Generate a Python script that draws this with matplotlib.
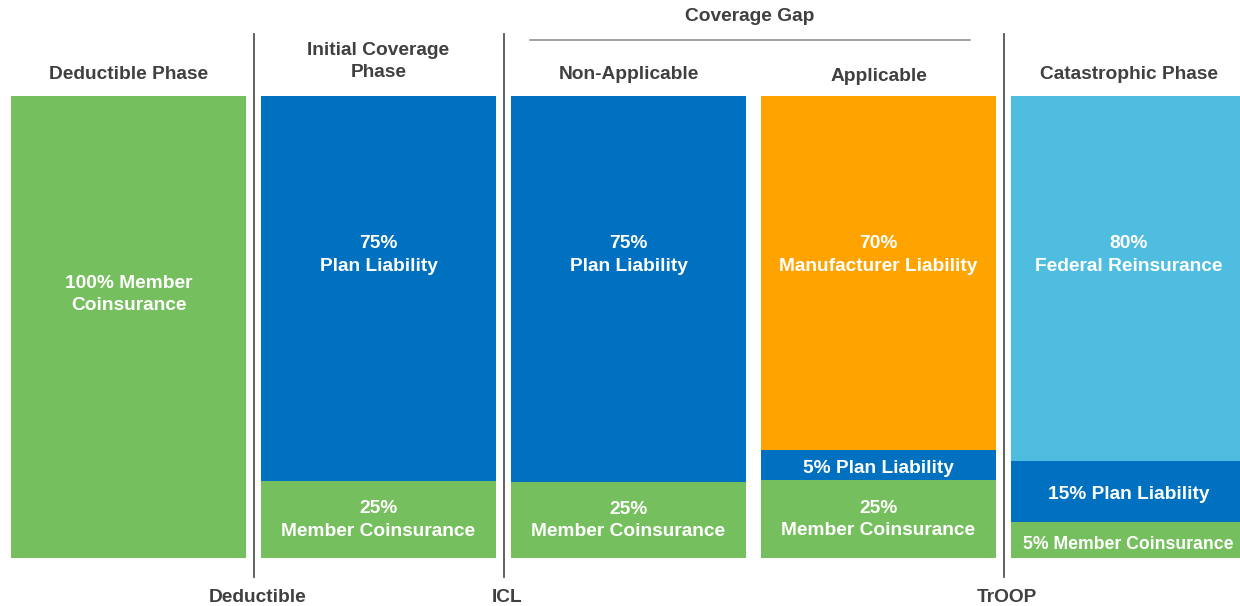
import matplotlib
matplotlib.use("Agg")
import matplotlib.pyplot as plt

# phases and segment data (visual heights as drawn, bottom -> top)
phases = ["Deductible Phase", "Initial Coverage\nPhase", "Non-Applicable", "Applicable", "Catastrophic Phase"]
member_h = [100, 16.7, 16.5, 16.9, 7.8]
plan_h = [0, 83.3, 83.5, 6.5, 13.2]
top_h = [0, 0, 0, 76.6, 79.0]

member_lbl = ["100% Member\nCoinsurance", "25%\nMember Coinsurance", "25%\nMember Coinsurance",
              "25%\nMember Coinsurance", "5% Member Coinsurance"]
plan_lbl = ["", "75%\nPlan Liability", "75%\nPlan Liability", "5% Plan Liability", "15% Plan Liability"]
top_lbl = ["", "", "", "70%\nManufacturer Liability", "80%\nFederal Reinsurance"]
top_colors = ["#FFA300", "#4FBDE0"]

thresholds = ["Deductible", "ICL", "TrOOP"]
threshold_x = [0.5, 1.5, 3.5]

GREEN = "#76BF5E"
BLUE = "#0070C0"
DARK = "#404040"
FS = 13.8

plt.rcParams["font.family"] = ["Liberation Sans", "DejaVu Sans"]

fig = plt.figure(figsize=(12.4, 6.06), dpi=100)
ax = fig.add_axes([0, 0, 1, 1])
ax.set_xlim(-0.514, 4.446)
ax.set_ylim(-10.39, 120.78)
ax.axis("off")

x = list(range(len(phases)))
w = 0.94
ax.bar(x, member_h, width=w, color=GREEN)
ax.bar(x, plan_h, width=w, bottom=member_h, color=BLUE)
ax.bar(x[3:], top_h[3:], width=w, bottom=[m + p for m, p in zip(member_h[3:], plan_h[3:])],
       color=top_colors)

tw = dict(color="white", fontweight="bold", fontsize=FS, ha="center", va="center", linespacing=1.42)
for i in x:
    # member segment label
    if i == 0:
        ax.text(i, 57, member_lbl[i], **tw)
    elif i < 4:
        ax.text(i, member_h[i] / 2 - 0.1, member_lbl[i], **tw)
    else:
        ax.text(i, member_h[i] / 2 - 1.0, member_lbl[i], **dict(tw, fontsize=12.7))
    if plan_lbl[i]:
        if i in (1, 2):
            ax.text(i, 65.6, plan_lbl[i], **tw)
        else:
            ax.text(i, member_h[i] + plan_h[i] / 2 - 0.7, plan_lbl[i], **tw)
    if top_lbl[i]:
        ax.text(i, 65.6, top_lbl[i], **tw)

    ty = 107.4 if i == 1 else (104.3 if i == 3 else 104.7)
    ax.text(i, ty, phases[i], color=DARK, fontweight="bold",
            fontsize=FS, ha="center", va="center", linespacing=1.36)

# separators and threshold labels
for tx, lab in zip(threshold_x, thresholds):
    ax.plot([tx, tx], [-4.2, 113.5], color="#555555", lw=1.3)
    ax.text(tx + 0.015, -8.6, lab, color=DARK, fontweight="bold", fontsize=FS,
            ha="center", va="center")

ax.plot([1.606, 3.366], [112.1, 112.1], color="#888888", lw=1.1)
ax.text(2.486, 117.2, "Coverage Gap", color=DARK, fontweight="bold", fontsize=FS,
        ha="center", va="center")

fig.savefig("out.png", dpi=100)
